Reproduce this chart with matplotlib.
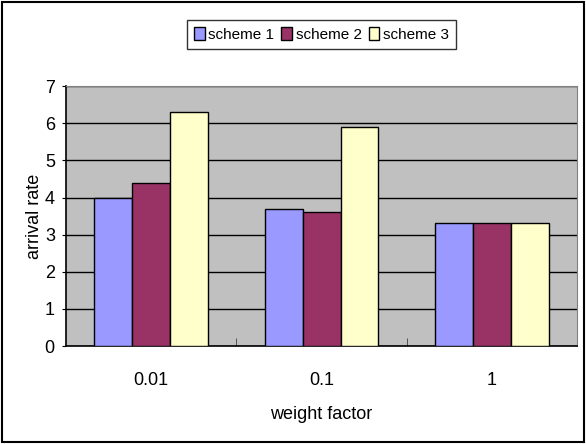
import numpy as np
import matplotlib
matplotlib.use("Agg")
import matplotlib.pyplot as plt
from matplotlib.patches import Rectangle

plt.rcParams['font.family'] = ['Liberation Sans', 'DejaVu Sans']

categories = ["0.01", "0.1", "1"]
series_names = ["scheme 1", "scheme 2", "scheme 3"]
scheme1 = [4.0, 3.7, 3.3]
scheme2 = [4.4, 3.6, 3.3]
scheme3 = [6.3, 5.9, 3.3]
colors = ["#9999FF", "#993366", "#FFFFCC"]

fig = plt.figure(figsize=(5.86, 4.44), dpi=100)
ax = fig.add_axes([0.1126, 0.2207, 0.8724, 0.5853])

x = np.arange(len(categories))
w = 1 / 4.5
for i, (vals, name) in enumerate(zip([scheme1, scheme2, scheme3], series_names)):
    ax.bar(x + (i - 1) * w, vals, width=w, color=colors[i], edgecolor="black",
           linewidth=1.0, label=name, zorder=3)

ax.set_facecolor("#C0C0C0")
ax.set_xlim(-0.5, 2.5)
ax.set_ylim(0, 7)
ax.set_yticks(range(8))
ax.set_xticks(x)
ax.set_xticklabels(categories)
ax.set_xticks([0.5, 1.5, 2.5], minor=True)
ax.tick_params(axis="x", which="major", length=0, pad=19, labelsize=13)
ax.tick_params(axis="x", which="minor", length=6, direction="in", color="#404040")
ax.tick_params(axis="y", length=3, direction="out", labelsize=13, pad=5)
ax.yaxis.grid(True, color="black", linewidth=1.0, zorder=0)
ax.set_axisbelow(True)

for side in ["top", "right"]:
    ax.spines[side].set_color("#808080")
for side in ["left", "bottom"]:
    ax.spines[side].set_color("black")
    ax.spines[side].set_linewidth(1.2)

ax.set_xlabel("weight factor", fontsize=13, labelpad=12)
ax.set_ylabel("arrival rate", fontsize=13, labelpad=1)

leg = ax.legend(loc="upper center", bbox_to_anchor=(0.5, 1.255), ncol=3,
                frameon=True, fancybox=False, edgecolor="black", fontsize=11,
                handlelength=0.7, handleheight=1.0, handletextpad=0.25,
                columnspacing=0.45, borderpad=0.45, borderaxespad=0)
leg.get_frame().set_linewidth(1.0)

fig.patches.append(Rectangle((0.003, 0.004), 0.994, 0.992, transform=fig.transFigure,
                             fill=False, edgecolor="black", linewidth=1.5))

fig.savefig("out.png", dpi=100)
